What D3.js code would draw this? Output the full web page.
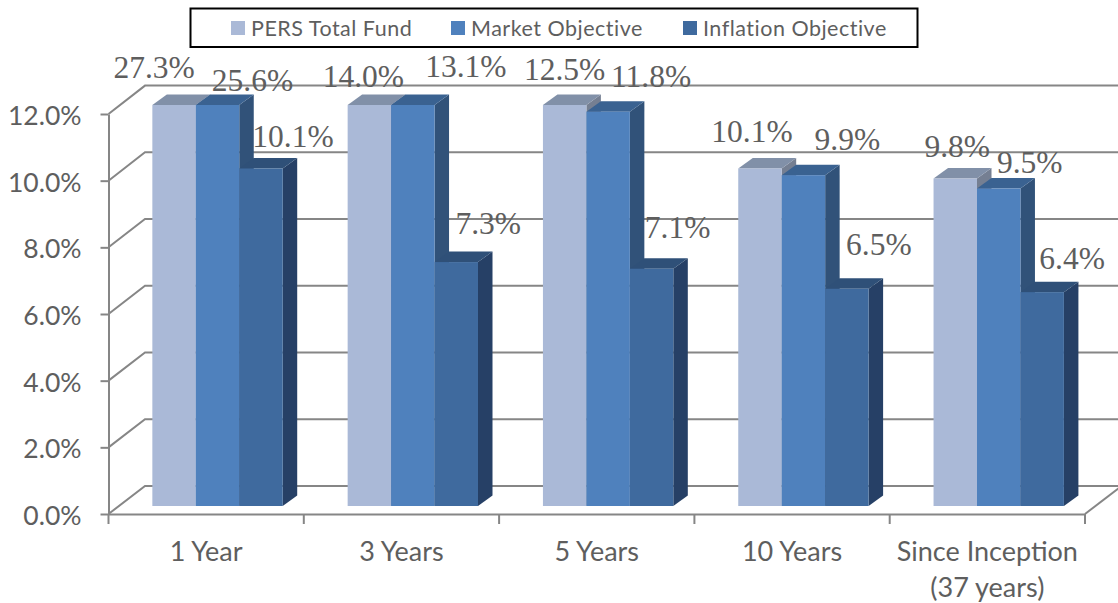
<!DOCTYPE html>
<html><head><meta charset="utf-8">
<script src="https://cdn.jsdelivr.net/npm/d3@7/dist/d3.min.js"></script>
<style>html,body{margin:0;padding:0;background:#fff;overflow:hidden}</style>
</head><body><svg id="c" width="1118" height="603"></svg>
<script>
const categories = ["1 Year","3 Years","5 Years","10 Years","Since Inception|(37 years)"];
const seriesNames = ["PERS Total Fund","Market Objective","Inflation Objective"];
const persTotalFund = [27.3,14.0,12.5,10.1,9.8];
const marketObjective = [25.6,13.1,11.8,9.9,9.5];
const inflationObjective = [10.1,7.3,7.1,6.5,6.4];
const yTicks = [0,2,4,6,8,10,12];
const seriesValues = [persTotalFund,marketObjective,inflationObjective];

// layout and style (not data)
const frontColors = ["#AAB9D7","#4F81BD","#3F6A9E"];
const topColors = ["#8190A8","#3A6291","#2F5078"];
const sideColors = ["#757F92","#315279","#264066"];
const legendX = [231,451,683];
// label nudges from the top-centre of each clipped bar, as in the source chart
const labelNudge = [
 [[-20,-27],[35,-14],[32,-21]],
 [[-6,-18],[53,-28],[32,-28]],
 [[0,-25],[43,-25],[26,-31]],
 [[-8,-26],[44,-25],[32,-34]],
 [[2,-22],[31,-16],[30,-23]]
];

const svg = d3.select("#c");
const W = 1118, gridColor = "#868686", textColor = "#5E5E5E";
const axisFont = "Lato, Carlito, sans-serif";
const x = d3.scaleBand().domain(categories).range([108.5,1085]);
const yAxisScale = d3.scaleLinear().domain([0,12]).range([514,114]);
const yBack = d3.scaleLinear().domain([0,12]).range([486,85.6]);
const yBar = d3.scaleLinear().domain([0,12]).range([506,105]).clamp(true);
const wallDx = 36.5, sideDx = 14.5, sideDy = 10.5;
const barW = x.bandwidth()*0.2225, barStart = x.bandwidth()*0.2245;

// walls
const grid = svg.append("g").attr("fill","none").attr("stroke",gridColor).attr("stroke-width",2);
yTicks.forEach(t=>{
  grid.append("path").attr("d",`M${x.range()[0]},${yAxisScale(t)}L${x.range()[0]+wallDx},${yBack(t)}L${W},${yBack(t)}`);
});
grid.append("path").attr("d",`M${x.range()[1]},${yAxisScale(0)}L${x.range()[1]+wallDx},${yBack(0)}`);

// bars
categories.forEach((c,i)=>{
  const g = svg.append("g");
  seriesValues.forEach((vals,s)=>{
    const x0 = x(c)+barStart+s*barW, x1 = x0+barW, yt = yBar(vals[i]), yb = yBar(0);
    g.append("path").attr("fill",sideColors[s]).attr("d",`M${x1},${yt}L${x1+sideDx},${yt-sideDy}L${x1+sideDx},${yb-sideDy}L${x1},${yb}Z`);
    g.append("path").attr("fill",topColors[s]).attr("d",`M${x0},${yt}L${x0+sideDx},${yt-sideDy}L${x1+sideDx},${yt-sideDy}L${x1},${yt}Z`);
    g.append("rect").attr("x",x0).attr("y",yt).attr("width",barW).attr("height",yb-yt).attr("fill",frontColors[s]);
  });
});

// axes
const yAxis = svg.append("g").attr("transform",`translate(${x.range()[0]},0)`)
  .call(d3.axisLeft(yAxisScale).tickValues(yTicks).tickSize(8).tickPadding(19).tickSizeOuter(0).tickFormat(d=>d.toFixed(1)+"%"));
const xAxis = svg.append("g").attr("transform",`translate(0,${yAxisScale(0)})`)
  .call(d3.axisBottom(x).tickSize(0).tickFormat(""));
[...x.domain().map(d=>x(d)),x.range()[1]].forEach(px=>{
  xAxis.append("line").attr("x1",px).attr("x2",px).attr("y1",0).attr("y2",10);
});
svg.selectAll(".domain,.tick line").attr("stroke",gridColor).attr("stroke-width",2);
xAxis.selectAll("line").attr("stroke",gridColor).attr("stroke-width",2);
yAxis.selectAll("text").attr("fill",textColor).style("font-family",axisFont).style("font-size","26.5px").attr("dy","0.4em");
xAxis.selectAll(".tick text").remove();
categories.forEach(c=>{
  c.split("|").forEach((ln,k)=>{
    svg.append("text").attr("x",x(c)+x.bandwidth()/2).attr("y",561+k*36).attr("text-anchor","middle")
      .attr("fill",textColor).style("font-family",axisFont).style("font-size","27px").text(ln);
  });
});

// data labels
categories.forEach((c,i)=>{
  seriesValues.forEach((vals,s)=>{
    const cx = x(c)+barStart+(s+.5)*barW, n = labelNudge[i][s];
    svg.append("text").attr("x",cx+n[0]).attr("y",yBar(vals[i])+n[1]).attr("text-anchor","middle")
      .attr("fill",textColor).style("font-family","'Liberation Serif', serif").style("font-size","31.5px")
      .text(vals[i].toFixed(1)+"%");
  });
});

// legend
svg.append("rect").attr("x",190.5).attr("y",8.5).attr("width",727).attr("height",38.5).attr("fill","#fff").attr("stroke","#000").attr("stroke-width",2);
seriesNames.forEach((n,s)=>{
  svg.append("rect").attr("x",legendX[s]).attr("y",21).attr("width",14).attr("height",14).attr("fill",frontColors[s]);
  svg.append("text").attr("x",legendX[s]+20).attr("y",35.5).attr("fill",textColor)
    .style("font-family",axisFont).style("font-size","21.5px").style("letter-spacing","0.5px").text(n);
});
</script></body></html>
